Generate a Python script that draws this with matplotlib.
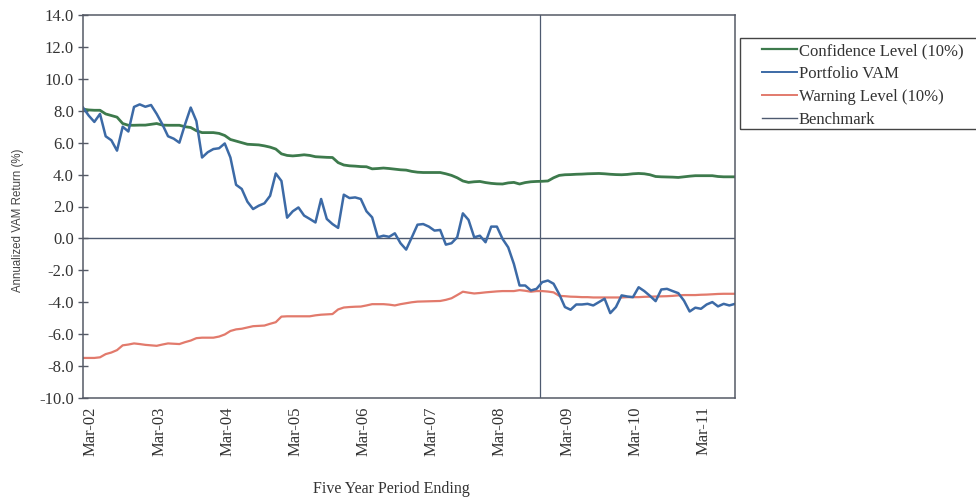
import matplotlib
matplotlib.use("Agg")
import matplotlib.pyplot as plt
from matplotlib.lines import Line2D
from matplotlib.patches import Rectangle

# ---- data (monthly, Mar-02 .. Oct-11) ----
portfolio_vam = [
    8.2, 7.7, 7.3, 7.8, 6.4, 6.15, 5.5, 7.0, 6.7, 8.24,
    8.4, 8.25, 8.36, 7.8, 7.15, 6.4, 6.25, 6.0, 7.15, 8.2,
    7.35, 5.07, 5.4, 5.6, 5.65, 5.95, 5.07, 3.36, 3.1, 2.3,
    1.84, 2.05, 2.2, 2.67, 4.07, 3.6, 1.3, 1.7, 1.94, 1.43,
    1.22, 1.0, 2.47, 1.22, 0.9, 0.66, 2.74, 2.53, 2.57, 2.47,
    1.7, 1.32, 0.07, 0.17, 0.1, 0.32, -0.3, -0.7, 0.07, 0.86,
    0.9, 0.74, 0.49, 0.53, -0.39, -0.3, 0.07, 1.57, 1.16, 0.07,
    0.17, -0.24, 0.74, 0.74, -0.03, -0.56, -1.6, -2.95, -2.95, -3.26,
    -3.16, -2.74, -2.64, -2.84, -3.5, -4.3, -4.47, -4.14, -4.14, -4.1,
    -4.2, -3.99, -3.78, -4.68, -4.3, -3.57, -3.64, -3.68, -3.06, -3.3,
    -3.6, -3.93, -3.2, -3.16, -3.3, -3.43, -3.9, -4.58, -4.34, -4.41,
    -4.14, -3.99, -4.26, -4.1, -4.2, -4.1,
]
confidence_level = [
    8.1, 8.05, 8.03, 8.03, 7.8, 7.7, 7.6, 7.2, 7.09, 7.09,
    7.1, 7.1, 7.15, 7.2, 7.1, 7.09, 7.09, 7.09, 7.0, 6.95,
    6.75, 6.63, 6.63, 6.63, 6.58, 6.45, 6.2, 6.1, 6.0, 5.9,
    5.88, 5.86, 5.8, 5.72, 5.6, 5.3, 5.2, 5.17, 5.2, 5.24,
    5.2, 5.12, 5.1, 5.08, 5.07, 4.75, 4.6, 4.55, 4.53, 4.5,
    4.49, 4.36, 4.38, 4.41, 4.38, 4.34, 4.3, 4.28, 4.2, 4.15,
    4.13, 4.13, 4.13, 4.13, 4.05, 3.95, 3.8, 3.6, 3.51, 3.55,
    3.57, 3.5, 3.45, 3.42, 3.41, 3.48, 3.51, 3.41, 3.5, 3.55,
    3.57, 3.58, 3.6, 3.8, 3.95, 3.99, 4.0, 4.02, 4.03, 4.05,
    4.06, 4.07, 4.05, 4.02, 4.0, 3.99, 4.01, 4.05, 4.07, 4.05,
    3.99, 3.88, 3.86, 3.85, 3.84, 3.82, 3.86, 3.9, 3.93, 3.93,
    3.93, 3.93, 3.88, 3.86, 3.86, 3.86,
]
warning_level = [
    -7.49, -7.49, -7.49, -7.45, -7.25, -7.15, -7.0, -6.7, -6.65, -6.58,
    -6.62, -6.67, -6.7, -6.73, -6.65, -6.58, -6.6, -6.62, -6.5, -6.4,
    -6.25, -6.22, -6.22, -6.22, -6.15, -6.02, -5.8, -5.7, -5.66, -5.58,
    -5.5, -5.48, -5.46, -5.35, -5.25, -4.9, -4.88, -4.88, -4.88, -4.88,
    -4.88, -4.82, -4.78, -4.76, -4.74, -4.45, -4.33, -4.3, -4.28, -4.27,
    -4.2, -4.12, -4.12, -4.12, -4.15, -4.2, -4.12, -4.06, -4.0, -3.96,
    -3.95, -3.94, -3.93, -3.92, -3.85, -3.75, -3.55, -3.34, -3.4, -3.45,
    -3.42, -3.38, -3.35, -3.32, -3.3, -3.3, -3.3, -3.24, -3.28, -3.34,
    -3.3, -3.3, -3.33, -3.38, -3.6, -3.62, -3.65, -3.66, -3.68, -3.68,
    -3.7, -3.7, -3.7, -3.7, -3.7, -3.7, -3.68, -3.68, -3.68, -3.66,
    -3.65, -3.64, -3.63, -3.62, -3.6, -3.57, -3.55, -3.55, -3.55, -3.53,
    -3.52, -3.5, -3.48, -3.47, -3.47, -3.47,
]
benchmark_value = 0.0
divider_month = 80.6
tick_labels = ["Mar-02", "Mar-03", "Mar-04", "Mar-05", "Mar-06",
               "Mar-07", "Mar-08", "Mar-09", "Mar-10", "Mar-11"]
y_ticks = [14.0, 12.0, 10.0, 8.0, 6.0, 4.0, 2.0, 0.0, -2.0, -4.0, -6.0, -8.0, -10.0]
series_labels = ["Confidence Level (10%)", "Portfolio VAM", "Warning Level (10%)", "Benchmark"]

# ---- styles ----
c_conf = "#3d7a4c"
c_vam = "#3c6aa6"
c_warn = "#e27a6c"
c_bench = "#4e5a70"
c_axis = "#555a66"
serif = ["Liberation Serif", "DejaVu Serif"]
W, H = 976, 497

fig = plt.figure(figsize=(W / 100, H / 100), dpi=100)
ax = fig.add_axes([83 / W, 99 / H, 652 / W, 383 / H])

n = len(portfolio_vam)
xs = list(range(n))
ax.plot(xs, confidence_level, color=c_conf, lw=2.0, solid_joinstyle="round")
ax.plot(xs, warning_level, color=c_warn, lw=1.6, solid_joinstyle="round")
ax.plot(xs, portfolio_vam, color=c_vam, lw=1.8, solid_joinstyle="round")
ax.axhline(benchmark_value, color=c_bench, lw=1.0, zorder=1)
ax.axvline(divider_month, color=c_bench, lw=0.9, zorder=1)

ax.set_xlim(0, n - 1)
ax.set_ylim(-10, 14)
ax.set_yticks(y_ticks)
ax.set_yticklabels([f"{v:.1f}" for v in y_ticks], family=serif, fontsize=12, color="#333")
ax.set_xticks(list(range(0, n, 12))[:len(tick_labels)])
ax.set_xticklabels(tick_labels, rotation=90, rotation_mode="anchor",
                   ha="right", va="top", family=serif, fontsize=12, color="#333")
ax.tick_params(axis="y", direction="inout", length=7, width=1.0, color=c_axis, pad=3)
ax.tick_params(axis="x", length=0, pad=6)
for s in ax.spines.values():
    s.set_color(c_axis)
    s.set_linewidth(1.1)

ax.set_ylabel("Annualized VAM Return (%)", family=["Liberation Sans", "DejaVu Sans"],
              fontsize=8.3, color="#444")
ax.yaxis.set_label_coords((24 - 83) / 652, (398 - 220) / 383)
fig.text(391 / W, 1 - 489 / H, "Five Year Period Ending",
         family=serif, fontsize=11.5, color="#333", ha="center", va="center")

handles = [Line2D([], [], color=c_conf, lw=1.6),
           Line2D([], [], color=c_vam, lw=1.4),
           Line2D([], [], color=c_warn, lw=1.4),
           Line2D([], [], color=c_bench, lw=1.0)]
leg = fig.legend(handles, series_labels, loc="upper left",
                 bbox_to_anchor=(762 / W, 1 - 43 / H),
                 prop={"family": serif, "size": 12}, frameon=False,
                 handlelength=2.1, handletextpad=0.1, labelspacing=0.42,
                 borderpad=0, borderaxespad=0)
for t in leg.get_texts():
    t.set_color("#333")
fig.patches.append(Rectangle((740 / W, 1 - 129 / H), 250 / W, 91 / H,
                             transform=fig.transFigure, fill=False,
                             edgecolor="#444", linewidth=1.0))

fig.savefig("out.png", dpi=100)
